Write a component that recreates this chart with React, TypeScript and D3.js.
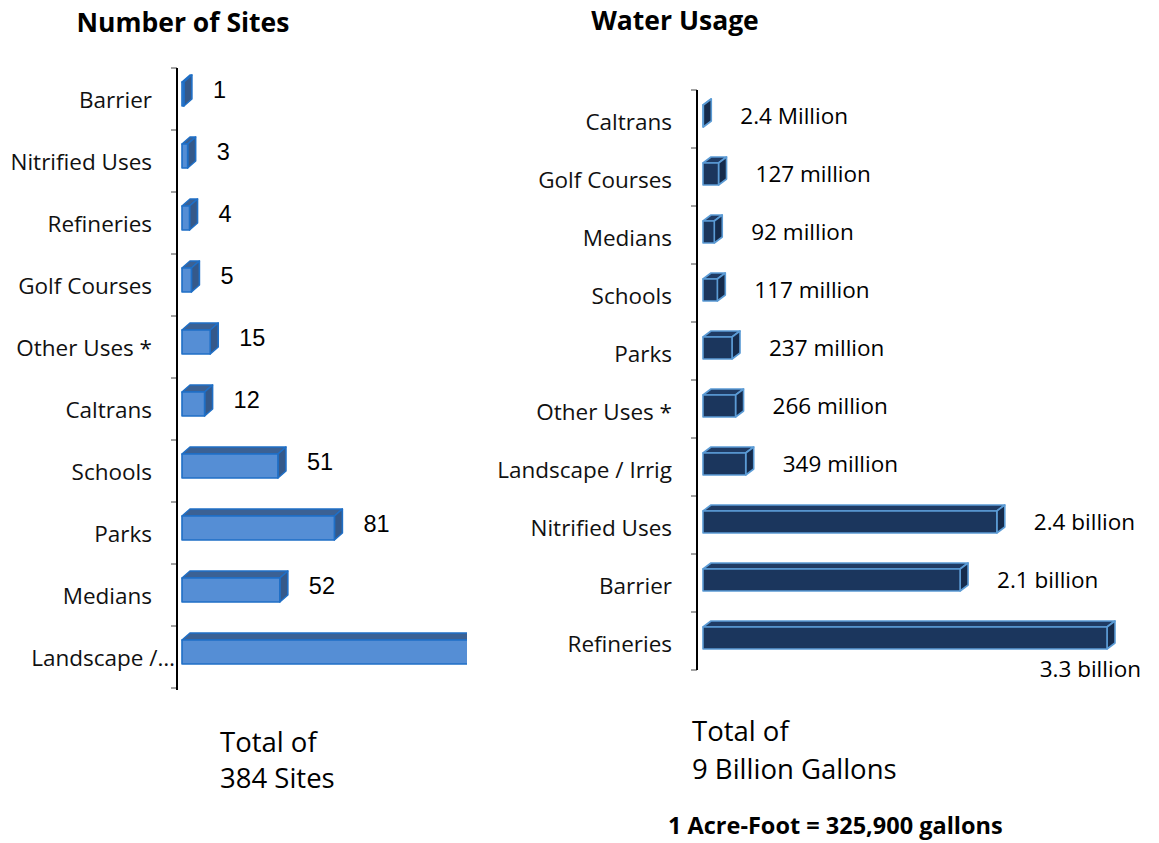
import React from "react";
import * as d3 from "d3";

// ---------- Data ----------
const siteCategories = [
  "Barrier",
  "Nitrified Uses",
  "Refineries",
  "Golf Courses",
  "Other Uses *",
  "Caltrans",
  "Schools",
  "Parks",
  "Medians",
  "Landscape /…",
];
const siteValues = [1, 3, 4, 5, 15, 12, 51, 81, 52, 160];
const siteLabels = ["1", "3", "4", "5", "15", "12", "51", "81", "52", ""];

const waterCategories = [
  "Caltrans",
  "Golf Courses",
  "Medians",
  "Schools",
  "Parks",
  "Other Uses *",
  "Landscape / Irrig",
  "Nitrified Uses",
  "Barrier",
  "Refineries",
];
const waterValues = [2.4, 127, 92, 117, 237, 266, 349, 2400, 2100, 3300]; // millions of gallons
const waterLabels = [
  "2.4 Million",
  "127 million",
  "92 million",
  "117 million",
  "237 million",
  "266 million",
  "349 million",
  "2.4 billion",
  "2.1 billion",
  "3.3 billion",
];

const FONT = "'Open Sans', 'Noto Sans', sans-serif";
const ARIAL = "'Liberation Sans', Arial, sans-serif";

type BarProps = {
  x0: number;
  x1: number;
  y: number;
  h: number;
  dx: number;
  dy: number;
  front: string;
  top: string;
  side: string;
  stroke: string;
};

function Bar3D({ x0, x1, y, h, dx, dy, front, top, side, stroke }: BarProps) {
  const w = Math.max(0, x1 - x0);
  const topPts = [
    [x0, y],
    [x0 + dx, y - dy],
    [x0 + w + dx, y - dy],
    [x0 + w, y],
  ];
  const sidePts = [
    [x0 + w, y],
    [x0 + w + dx, y - dy],
    [x0 + w + dx, y + h - dy],
    [x0 + w, y + h],
  ];
  const p = (pts: number[][]) => pts.map((q) => q.join(",")).join(" ");
  return (
    <g strokeWidth={1.6} stroke={stroke} strokeLinejoin="round">
      <polygon points={p(topPts)} fill={top} />
      <polygon points={p(sidePts)} fill={side} />
      <rect x={x0} y={y} width={w} height={h} fill={front} />
    </g>
  );
}

export default function App() {
  // Left chart scales
  const yL = d3.scaleBand<string>().domain(siteCategories).range([68, 688]);
  const xL = d3.scaleLinear().domain([0, 160]).range([182, 182 + 301]);
  const axisXL = 177;

  // Right chart scales
  const yR = d3.scaleBand<string>().domain(waterCategories).range([90, 670]);
  const xR = d3.scaleLinear().domain([0, 3300]).range([703, 1107]);
  const axisXR = 697;

  const leftTicks = [...siteCategories.map((c) => yL(c) as number), 688];
  const rightTicks = [...waterCategories.map((c) => yR(c) as number), 670];

  return (
    <svg
      width={1159}
      height={843}
      style={{ position: "absolute", left: 0, top: 0, background: "#fff" }}
    >
      <defs>
        <clipPath id="clipLeft">
          <rect x={0} y={0} width={467} height={843} />
        </clipPath>
      </defs>

      {/* Titles */}
      <text x={183} y={32} textAnchor="middle" fontFamily={FONT} fontWeight={700} fontSize={26.5} fill="#000">
        Number of Sites
      </text>
      <text x={675} y={30} textAnchor="middle" fontFamily={FONT} fontWeight={700} fontSize={26.5} fill="#000">
        Water Usage
      </text>

      {/* Left chart */}
      <g>
        {leftTicks.map((t, i) => (
          <line key={i} x1={axisXL - 6} x2={axisXL} y1={t} y2={t} stroke="#444" strokeWidth={1} />
        ))}
        <line x1={axisXL} x2={axisXL} y1={68} y2={690} stroke="#000" strokeWidth={2} />
        {siteCategories.map((c) => {
          const cy = (yL(c) as number) + yL.bandwidth() / 2;
          const truncated = c.endsWith("…");
          return (
            <text
              key={c}
              x={truncated ? 175 : 152}
              y={cy + 9}
              textAnchor="end"
              fontFamily={FONT}
              fontSize={22.5}
              fill="#111"
            >
              {c}
            </text>
          );
        })}
        <g clipPath="url(#clipLeft)">
          {siteCategories.map((c, i) => {
            const cy = (yL(c) as number) + yL.bandwidth() / 2;
            return (
              <Bar3D
                key={c}
                x0={xL(0)}
                x1={xL(siteValues[i])}
                y={cy - 17}
                h={24}
                dx={8}
                dy={7}
                front="#558ed5"
                top="#3b6194"
                side="#35598a"
                stroke="#1f6fc6"
              />
            );
          })}
        </g>
        {siteCategories.map((c, i) => {
          const cy = (yL(c) as number) + yL.bandwidth() / 2;
          if (!siteLabels[i]) return null;
          return (
            <text key={c} x={xL(siteValues[i]) + 8 + 21} y={cy - 1} fontFamily={ARIAL} fontSize={23.5} fill="#000">
              {siteLabels[i]}
            </text>
          );
        })}
      </g>

      {/* Right chart */}
      <g>
        {rightTicks.map((t, i) => (
          <line key={i} x1={axisXR - 6} x2={axisXR} y1={t} y2={t} stroke="#444" strokeWidth={1} />
        ))}
        <line x1={axisXR} x2={axisXR} y1={90} y2={670} stroke="#000" strokeWidth={2} />
        {waterCategories.map((c) => {
          const cy = (yR(c) as number) + yR.bandwidth() / 2;
          return (
            <text key={c} x={672} y={cy + 11} textAnchor="end" fontFamily={FONT} fontSize={22.5} fill="#111">
              {c}
            </text>
          );
        })}
        {waterCategories.map((c, i) => {
          const cy = (yR(c) as number) + yR.bandwidth() / 2;
          return (
            <Bar3D
              key={c}
              x0={xR(0)}
              x1={xR(waterValues[i])}
              y={cy - 14}
              h={22}
              dx={8}
              dy={6}
              front="#1b365d"
              top="#1f3b64"
              side="#152b4c"
              stroke="#5b9bd5"
            />
          );
        })}
        {waterCategories.map((c, i) => {
          const cy = (yR(c) as number) + yR.bandwidth() / 2;
          const end = xR(waterValues[i]) + 8;
          const below = end + 28 + 110 > 1159;
          return below ? (
            <text key={c} x={1141} y={cy + 36} textAnchor="end" fontFamily={FONT} fontSize={22.5} fill="#000">
              {waterLabels[i]}
            </text>
          ) : (
            <text key={c} x={end + 29} y={cy + 5} fontFamily={FONT} fontSize={22.5} fill="#000">
              {waterLabels[i]}
            </text>
          );
        })}
      </g>

      {/* Footer texts */}
      <text fontFamily={FONT} fontSize={27.5} fill="#000">
        <tspan x={220} y={752}>Total of</tspan>
        <tspan x={220} y={788}>384 Sites</tspan>
      </text>
      <text fontFamily={FONT} fontSize={27.5} fill="#000">
        <tspan x={692} y={741}>Total of</tspan>
        <tspan x={692} y={779}>9 Billion Gallons</tspan>
      </text>
      <text x={668} y={834} fontFamily={FONT} fontWeight={700} fontSize={23.5} fill="#000">
        1 Acre-Foot = 325,900 gallons
      </text>
    </svg>
  );
}
